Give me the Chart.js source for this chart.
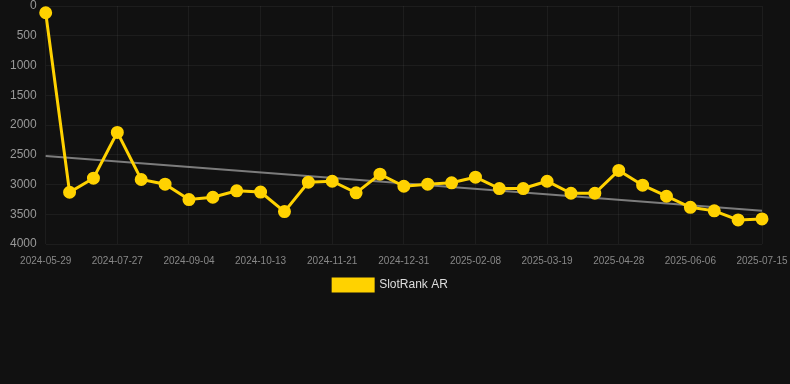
<!DOCTYPE html>
<html>
<head>
<meta charset="utf-8">
<script src="https://cdn.jsdelivr.net/npm/chart.js@4.4.0/dist/chart.umd.min.js"></script>
<style>
    html, body { margin: 0; padding: 0; background: #111111; }
    #wrap { width: 790px; height: 301px; }
</style>
</head>
<body>
<div id="wrap"><canvas id="rankChart"></canvas></div>
<script>
const dates = [
    "2024-05-29", "2024-06-18", "2024-07-07", "2024-07-27", "2024-08-09", "2024-08-22",
    "2024-09-04", "2024-09-17", "2024-09-30", "2024-10-13", "2024-10-26", "2024-11-08",
    "2024-11-21", "2024-12-04", "2024-12-17", "2024-12-31", "2025-01-13", "2025-01-26",
    "2025-02-08", "2025-02-21", "2025-03-06", "2025-03-19", "2025-04-01", "2025-04-14",
    "2025-04-28", "2025-05-11", "2025-05-24", "2025-06-06", "2025-06-19", "2025-07-02",
    "2025-07-15"
];
const ranks = [
    113, 3130, 2894, 2124, 2916, 2995, 3253, 3214, 3106, 3127, 3455, 2961,
    2945, 3140, 2827, 3029, 2995, 2972, 2877, 3068, 3068, 2945, 3147, 3147,
    2764, 3012, 3197, 3383, 3443, 3595, 3578
];
const yTicks = [0, 500, 1000, 1500, 2000, 2500, 3000, 3500, 4000];

// least squares trend over the index
const n = ranks.length;
const meanX = (n - 1) / 2;
const meanY = ranks.reduce((a, b) => a + b, 0) / n;
let num = 0, den = 0;
ranks.forEach((v, i) => { num += (i - meanX) * (v - meanY); den += (i - meanX) ** 2; });
const slope = num / den;
const trend = ranks.map((v, i) => (i === 0 || i === n - 1) ? meanY + slope * (i - meanX) : null);

const gridColor = 'rgba(255,255,255,0.05)';
const fontFamily = 'Arial, "Liberation Sans", sans-serif';

const ctx = document.getElementById('rankChart').getContext('2d');
new Chart(ctx, {
    type: 'line',
    data: {
        labels: dates,
        datasets: [
            {
                label: 'SlotRank AR',
                data: ranks,
                borderColor: '#FFD200',
                backgroundColor: '#FFD200',
                borderWidth: 3,
                pointRadius: 5,
                pointHoverRadius: 6,
                tension: 0
            },
            {
                label: 'Trend',
                data: trend,
                spanGaps: true,
                borderColor: 'rgba(160, 160, 160, 0.75)',
                borderWidth: 2,
                pointRadius: 0,
                fill: false
            }
        ]
    },
    options: {
        responsive: true,
        maintainAspectRatio: false,
        animation: false,
        layout: { autoPadding: false, padding: { left: 1, right: 10, top: 0, bottom: 0 } },
        plugins: {
            legend: {
                position: 'bottom',
                labels: {
                    color: '#dddddd',
                    padding: 7,
                    font: { family: fontFamily, size: 12 },
                    boxWidth: 40,
                    boxHeight: 12,
                    filter: item => item.datasetIndex === 0
                }
            },
            tooltip: { enabled: false }
        },
        scales: {
            x: {
                afterFit: s => { s.height = 28; s.paddingRight = 28; s.paddingLeft = 0; },
                grid: {
                    color: c => (c.index % 3 === 0 ? gridColor : 'transparent'),
                    drawTicks: false
                },
                border: { display: false },
                ticks: {
                    color: '#888888',
                    autoSkip: false,
                    maxRotation: 0,
                    padding: 11,
                    font: { family: fontFamily, size: 10 },
                    callback: (val, idx) => (idx % 3 === 0 ? dates[idx] : '')
                }
            },
            y: {
                reverse: true,
                min: 0,
                max: 4000,
                afterFit: s => { s.paddingTop = 6; s.paddingBottom = 0; },
                afterBuildTicks: axis => { axis.ticks = yTicks.map(v => ({ value: v })); },
                grid: { color: gridColor, drawTicks: false },
                border: { display: false },
                ticks: {
                    color: '#999999',
                    padding: 9,
                    font: { family: fontFamily, size: 12 },
                    callback: v => String(v)
                }
            }
        }
    }
});
</script>
</body>
</html>
